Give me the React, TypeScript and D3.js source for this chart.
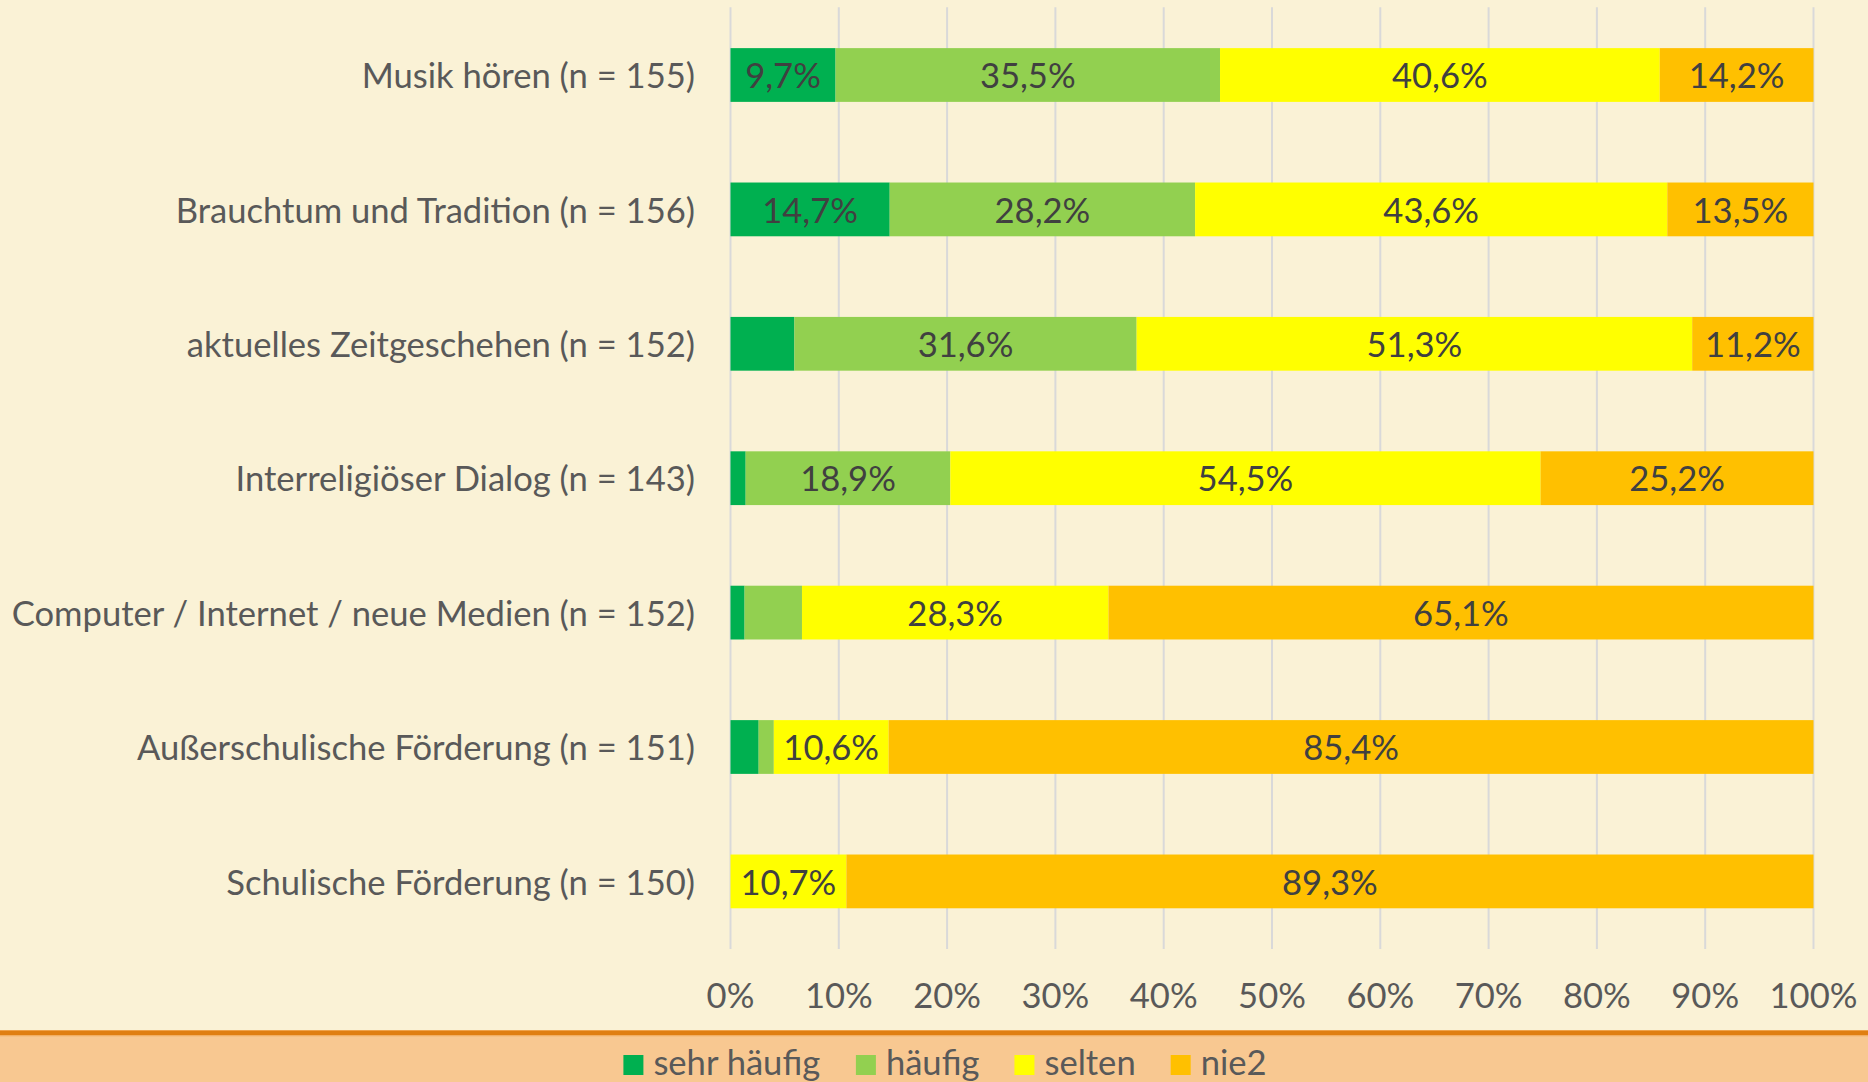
import React from "react";
import * as d3 from "d3";

const categories = [
  "Musik hören (n = 155)",
  "Brauchtum und Tradition (n = 156)",
  "aktuelles Zeitgeschehen (n = 152)",
  "Interreligiöser Dialog (n = 143)",
  "Computer / Internet / neue Medien (n = 152)",
  "Außerschulische Förderung (n = 151)",
  "Schulische Förderung (n = 150)",
];
const seriesNames = ["sehr häufig", "häufig", "selten", "nie2"];
const sehrHaeufig = [9.7, 14.7, 5.9, 1.4, 1.3, 2.6, 0];
const haeufig = [35.5, 28.2, 31.6, 18.9, 5.3, 1.4, 0];
const selten = [40.6, 43.6, 51.3, 54.5, 28.3, 10.6, 10.7];
const nie2 = [14.2, 13.5, 11.2, 25.2, 65.1, 85.4, 89.3];
const tickValues = [0, 10, 20, 30, 40, 50, 60, 70, 80, 90, 100];

const colors = ["#00B050", "#92D050", "#FFFF00", "#FFC000"];
const W = 1868;
const H = 1082;
const FONT = "Lato, 'Open Sans', sans-serif";
const FS = 34.6;

function measure(text: string, size: number) {
  const c = document.createElement("canvas").getContext("2d");
  if (!c) return text.length * size * 0.45;
  c.font = `${size}px Lato`;
  return c.measureText(text).width;
}

export default function App() {
  const rows = categories.map((c, i) => ({
    cat: c,
    "sehr häufig": sehrHaeufig[i],
    "häufig": haeufig[i],
    "selten": selten[i],
    "nie2": nie2[i],
  }));
  const stack = d3.stack<any>().keys(seriesNames)(rows);

  const x = d3.scaleLinear().domain([0, 100]).range([730.5, 1813.5]);
  const y = d3
    .scaleBand<string>()
    .domain(categories)
    .range([7.8, 948.6])
    .paddingInner(0.6)
    .paddingOuter(0.3);

  const fmt = (v: number) => v.toFixed(1).replace(".", ",") + "%";

  const sq = 20;
  const gapSqText = 10;
  const gapItems = 35;
  const widths = seriesNames.map((s) => measure(s, FS));
  const itemW = widths.map((w) => sq + gapSqText + w);
  const total = d3.sum(itemW) + gapItems * (seriesNames.length - 1);
  let lx = 945 - total / 2;
  const legendItems = seriesNames.map((s, i) => {
    const item = { name: s, x: lx, color: colors[i] };
    lx += itemW[i] + gapItems;
    return item;
  });

  const base = FS * 0.38;

  return (
    <svg
      width={W}
      height={H}
      style={{ position: "absolute", left: 0, top: 0, display: "block" }}
      fontFamily={FONT}
    >
      <rect x={0} y={0} width={W} height={1031} fill="#FAF2D6" />
      <rect x={0} y={1030} width={W} height={H - 1030} fill="#F8C891" />
      <rect x={0} y={1030} width={W} height={1} fill="#EFA24A" />
      <rect x={0} y={1031} width={W} height={4.3} fill="#E07F12" />
      <rect x={0} y={1035.3} width={W} height={1} fill="#F2AE62" />

      {tickValues.map((t) => (
        <line
          key={t}
          x1={x(t)}
          x2={x(t)}
          y1={7.3}
          y2={949}
          stroke="#D9D9D9"
          strokeWidth={2}
        />
      ))}

      {stack.map((layer, si) =>
        layer.map((d, i) => {
          const x0 = x(d[0]);
          const x1 = x(d[1]);
          const v = d[1] - d[0];
          const yy = y(categories[i])!;
          return (
            <g key={`${si}-${i}`}>
              {v > 0 && (
                <rect
                  x={x0}
                  y={yy}
                  width={x1 - x0}
                  height={y.bandwidth()}
                  fill={colors[si]}
                />
              )}
              {v >= 8 && (
                <text
                  x={(x0 + x1) / 2}
                  y={yy + y.bandwidth() / 2 + base}
                  textAnchor="middle"
                  fontSize={FS}
                  fill="#404040"
                >
                  {fmt(v)}
                </text>
              )}
            </g>
          );
        })
      )}

      {categories.map((c) => (
        <text
          key={c}
          x={695}
          y={y(c)! + y.bandwidth() / 2 + base}
          textAnchor="end"
          fontSize={FS}
          fill="#595959"
        >
          {c}
        </text>
      ))}

      {tickValues.map((t) => (
        <text
          key={t}
          x={x(t)}
          y={1008}
          textAnchor="middle"
          fontSize={FS}
          fill="#595959"
        >
          {t}%
        </text>
      ))}

      {legendItems.map((it) => (
        <g key={it.name}>
          <rect x={it.x} y={1055} width={sq} height={sq} fill={it.color} />
          <text
            x={it.x + sq + gapSqText}
            y={1075}
            fontSize={FS}
            fill="#595959"
          >
            {it.name}
          </text>
        </g>
      ))}
    </svg>
  );
}
